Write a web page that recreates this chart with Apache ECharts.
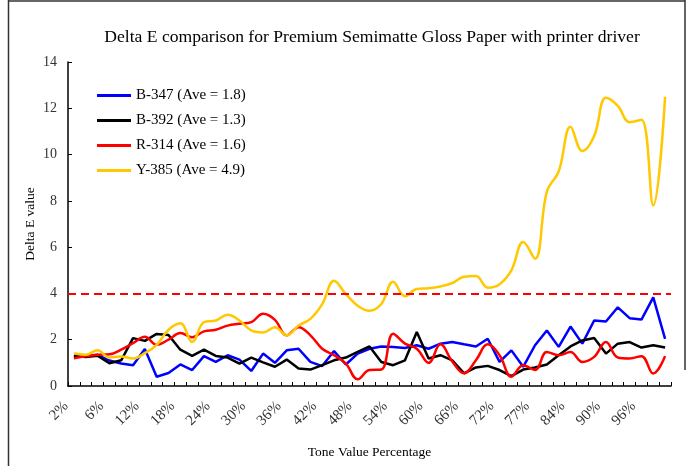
<!DOCTYPE html>
<html>
<head>
<meta charset="utf-8">
<script src="https://cdn.jsdelivr.net/npm/echarts@6/dist/echarts.min.js"></script>
<style>
    html, body { margin: 0; padding: 0; background: #ffffff; }
    #main { width: 692px; height: 466px; }
</style>
</head>
<body>
<div id="main"></div>
<script>
//Tone value categories (every 3rd one is labelled)
var categories = ['2%', '3%', '4%', '6%', '8%', '10%', '12%', '14%', '16%', '18%',
    '20%', '22%', '24%', '26%', '28%', '30%', '32%', '34%', '36%', '38%',
    '40%', '42%', '44%', '46%', '48%', '50%', '52%', '54%', '56%', '58%',
    '60%', '62%', '64%', '66%', '68%', '70%', '72%', '74%', '76%', '77%',
    '80%', '82%', '84%', '86%', '88%', '90%', '92%', '94%', '96%', '98%', '100%'];

var seriesNames = ['B-347 (Ave = 1.8)', 'B-392 (Ave = 1.3)', 'R-314 (Ave = 1.6)', 'Y-385 (Ave = 4.9)'];

var b347 = [1.3, 1.3, 1.35, 1.1, 0.97, 0.9, 1.6, 0.4, 0.56, 0.93,
    0.69, 1.29, 1.04, 1.33, 1.14, 0.65, 1.4, 1.0, 1.54, 1.61,
    1.04, 0.86, 1.51, 0.93, 1.4, 1.61, 1.71, 1.69, 1.64, 1.76,
    1.61, 1.83, 1.9, 1.8, 1.71, 2.04, 1.04, 1.54, 0.83, 1.76,
    2.4, 1.69, 2.57, 1.83, 2.83, 2.79, 3.4, 2.93, 2.87, 3.83, 2.04];

var b392 = [1.31, 1.25, 1.31, 0.98, 1.11, 2.07, 1.95, 2.25, 2.2, 1.57,
    1.3, 1.57, 1.3, 1.23, 0.97, 1.23, 1.02, 0.83, 1.14, 0.76,
    0.71, 0.9, 1.11, 1.23, 1.47, 1.71, 1.04, 0.9, 1.11, 2.33,
    1.19, 1.33, 1.11, 0.55, 0.8, 0.87, 0.69, 0.43, 0.71, 0.8,
    0.93, 1.33, 1.71, 1.97, 2.07, 1.4, 1.83, 1.9, 1.66, 1.76, 1.66];

var r314 = [1.2, 1.28, 1.35, 1.37, 1.57, 1.85, 2.13, 1.78, 2.0, 2.29,
    2.11, 2.36, 2.43, 2.61, 2.69, 2.76, 3.12, 2.86, 2.19, 2.54,
    2.19, 1.61, 1.33, 0.97, 0.29, 0.69, 0.71, 2.26, 1.83, 1.61,
    1.0, 1.8, 1.06, 0.55, 1.11, 1.8, 1.33, 0.4, 0.9, 0.69,
    1.47, 1.33, 1.47, 1.04, 1.26, 1.9, 1.23, 1.19, 1.29, 0.54, 1.29];

var y385 = [1.4, 1.35, 1.55, 1.23, 1.27, 1.19, 1.42, 1.78, 2.43, 2.71,
    1.9, 2.76, 2.83, 3.08, 2.83, 2.4, 2.31, 2.54, 2.19, 2.61,
    2.9, 3.54, 4.55, 3.97, 3.47, 3.25, 3.54, 4.5, 3.88, 4.19,
    4.22, 4.3, 4.45, 4.72, 4.75, 4.25, 4.4, 5.0, 6.22, 5.5,
    8.4, 9.27, 11.2, 10.15, 10.8, 12.45, 12.1, 11.4, 11.5, 7.8, 12.5];

//Delta E tolerance line
var limitValue = 4;

var serif = '"Liberation Serif", "Times New Roman", serif';

function drawChart() {
    var myChart = echarts.init(document.getElementById('main'), null, { renderer: 'canvas' });

    function lineSeries(name, data, color, smooth) {
        return {
            name: name,
            type: 'line',
            data: data,
            symbol: 'none',
            smooth: smooth,
            silent: true,
            animation: false,
            lineStyle: { color: color, width: 2.5 },
            itemStyle: { color: color }
        };
    }

    var series = [
        lineSeries(seriesNames[0], b347, '#0000ff', false),
        lineSeries(seriesNames[1], b392, '#000000', false),
        lineSeries(seriesNames[2], r314, '#ff0000', 0.4),
        lineSeries(seriesNames[3], y385, '#ffc800', 0.4)
    ];

    // dashed red line at Delta E = 4
    series[0].markLine = {
        silent: true,
        symbol: 'none',
        label: { show: false },
        lineStyle: { color: '#ff0000', type: [8, 5], width: 2 },
        data: [{ yAxis: limitValue }]
    };

    var option = {
        backgroundColor: '#ffffff',
        animation: false,
        title: {
            text: 'Delta E comparison for Premium Semimatte Gloss Paper with printer driver',
            left: 367,
            textAlign: 'center',
            top: 23,
            textStyle: {
                fontFamily: serif,
                fontWeight: 'normal',
                fontSize: 17.6,
                color: '#000000'
            }
        },
        legend: {
            orient: 'vertical',
            left: 97,
            top: 87,
            padding: 0,
            icon: 'rect',
            itemWidth: 34,
            itemHeight: 3,
            itemGap: 8,
            data: seriesNames,
            textStyle: {
                fontFamily: serif,
                fontSize: 15,
                lineHeight: 17,
                color: '#000000'
            }
        },
        grid: {
            left: 68,
            right: 21,
            top: 62,
            bottom: 80
        },
        xAxis: {
            type: 'category',
            data: categories,
            boundaryGap: true,
            name: 'Tone Value Percentage',
            nameLocation: 'middle',
            nameGap: 59,
            nameTextStyle: { fontFamily: serif, fontSize: 13.5, color: '#000000' },
            axisLine: { lineStyle: { color: '#000000', width: 1.5 } },
            axisTick: { show: true, inside: true, length: 4, interval: 0, lineStyle: { color: '#000000' } },
            axisLabel: {
                interval: 2,
                rotate: 45,
                margin: 10,
                padding: [0, 11, 0, 0],
                fontFamily: serif,
                fontSize: 15,
                color: '#333333'
            },
            splitLine: { show: false }
        },
        yAxis: {
            type: 'value',
            min: 0,
            max: 14,
            interval: 2,
            name: 'Delta E value',
            nameLocation: 'middle',
            nameGap: 31,
            nameMoveOverlap: false,
            nameTextStyle: { fontFamily: serif, fontSize: 13.5, color: '#000000' },
            axisLine: { show: true, lineStyle: { color: '#000000', width: 1.5 } },
            axisTick: { show: true, inside: true, length: 4, lineStyle: { color: '#000000' } },
            axisLabel: {
                margin: 11,
                fontFamily: serif,
                fontSize: 14,
                color: '#333333'
            },
            splitLine: { show: false }
        },
        graphic: [
            // frame round the figure
            { type: 'line', shape: { x1: 8.5, y1: 0, x2: 8.5, y2: 466 }, style: { stroke: '#333333', lineWidth: 1.5 } },
            { type: 'line', shape: { x1: 8, y1: 1, x2: 685, y2: 1 }, style: { stroke: '#333333', lineWidth: 1.5 } },
            { type: 'line', shape: { x1: 685, y1: 0, x2: 685, y2: 370 }, style: { stroke: '#333333', lineWidth: 1.5 } }
        ],
        series: series
    };

    myChart.setOption(option);
}

drawChart();
</script>
</body>
</html>
